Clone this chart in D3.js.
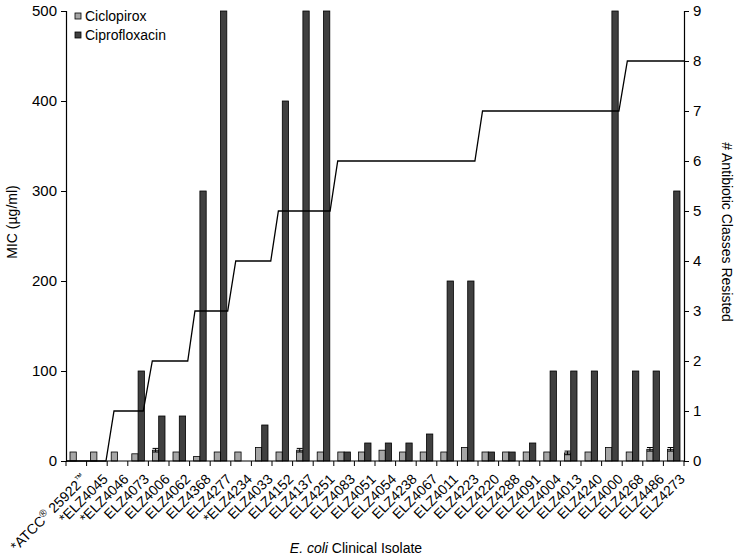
<!DOCTYPE html>
<html><head><meta charset="utf-8">
<script src="https://cdn.jsdelivr.net/npm/d3@7"></script>
<style>
body{margin:0;background:#fff;}
text{font-family:"Liberation Sans",Arial,sans-serif;fill:#000;}
</style></head>
<body><svg id="c" width="737" height="559"></svg>
<script>
const categories = ["*ATCC® 25922™","*ELZ4045","*ELZ4046","ELZ4073","ELZ4006","ELZ4062","ELZ4368","ELZ4277","*ELZ4234","ELZ4033","ELZ4152","ELZ4137","ELZ4251","ELZ4083","ELZ4051","ELZ4054","ELZ4238","ELZ4067","ELZ4011","ELZ4223","ELZ4220","ELZ4288","ELZ4091","ELZ4004","ELZ4013","ELZ4240","ELZ4000","ELZ4268","ELZ4486","ELZ4273"];
const ciclopirox = [10,10,10,8,12,10,5,10,10,15,10,12,10,10,10,12,10,10,10,15,10,10,10,10,9,10,15,10,13,13];
const ciclopiroxErr = [0,0,0,0,2,0,0,0,0,0,0,2,0,0,0,0,0,0,0,0,0,0,0,0,2,0,0,0,2,2];
const ciprofloxacin = [0,0,0,100,50,50,300,500,0,40,400,500,500,10,20,20,20,30,200,200,10,10,20,100,100,100,500,100,100,300];
const classX = [0,1.94,2.33,3.75,4.19,5.91,6.26,7.85,8.24,9.94,10.31,12.82,13.19,19.85,20.22,26.84,27.25,30];
const classY = [0,0,1,1,2,2,3,3,4,4,5,5,6,6,7,7,8,8];
const micTicks = [0,100,200,300,400,500];
const classTicks = [0,1,2,3,4,5,6,7,8,9];

const svg = d3.select("#c");
const L = 66, R = 684, T = 11, B = 461;
const x = d3.scaleBand().domain(categories).range([L, R]).padding(0);
const xLin = d3.scaleLinear().domain([0, categories.length]).range([L, R]);
const y = d3.scaleLinear().domain([0, 500]).range([B, T]);
const y2 = d3.scaleLinear().domain([0, 9]).range([B, T]);
const bw = 6.3;
const lightC = "#a6a6a6", darkC = "#404040";

// bars
const g = svg.append("g");
g.selectAll("rect.cp").data(categories).join("rect")
  .attr("x", d => x(d) + x.bandwidth()/2 - bw)
  .attr("width", bw)
  .attr("y", (d,i) => y(ciclopirox[i]))
  .attr("height", (d,i) => B - y(ciclopirox[i]))
  .attr("fill", lightC).attr("stroke", "#000").attr("stroke-width", 0.8);
g.selectAll("rect.cf").data(categories.filter((d,i)=>ciprofloxacin[i]>0)).join("rect")
  .attr("x", d => x(d) + x.bandwidth()/2)
  .attr("width", bw)
  .attr("y", d => y(ciprofloxacin[categories.indexOf(d)]))
  .attr("height", d => B - y(ciprofloxacin[categories.indexOf(d)]))
  .attr("fill", darkC).attr("stroke", "#000").attr("stroke-width", 0.8);
// error bars
categories.forEach((d,i) => {
  if (!ciclopiroxErr[i]) return;
  const cx = x(d) + x.bandwidth()/2 - bw/2;
  const e = svg.append("g").attr("stroke","#000").attr("stroke-width",1);
  e.append("line").attr("x1",cx).attr("x2",cx).attr("y1",y(ciclopirox[i]-ciclopiroxErr[i])).attr("y2",y(ciclopirox[i]+ciclopiroxErr[i]));
  e.append("line").attr("x1",cx-3).attr("x2",cx+3).attr("y1",y(ciclopirox[i]+ciclopiroxErr[i])).attr("y2",y(ciclopirox[i]+ciclopiroxErr[i]));
  e.append("line").attr("x1",cx-3).attr("x2",cx+3).attr("y1",y(ciclopirox[i]-ciclopiroxErr[i])).attr("y2",y(ciclopirox[i]-ciclopiroxErr[i]));
});

// line
svg.append("path")
  .datum(classX.map((v,i)=>[v, classY[i]]))
  .attr("d", d3.line().x(d=>xLin(d[0])).y(d=>y2(d[1])))
  .attr("fill","none").attr("stroke","#000").attr("stroke-width",1.3);

// left axis
const la = svg.append("g").attr("transform",`translate(${L},0)`)
  .call(d3.axisLeft(y).tickValues(micTicks).tickSize(5).tickPadding(4));
la.selectAll("text").style("font-size","15px");
// right axis
const ra = svg.append("g").attr("transform",`translate(${R},0)`)
  .call(d3.axisRight(y2).tickValues(classTicks).tickSize(5).tickPadding(4));
ra.selectAll("text").style("font-size","15px");
[la, ra].forEach(a => { a.select(".domain").attr("stroke","#000").attr("stroke-width",1.2); a.selectAll(".tick line").attr("stroke","#000"); });

// bottom axis
const xa = svg.append("g").attr("transform",`translate(0,${B})`);
xa.append("line").attr("x1",L).attr("x2",R).attr("stroke","#000").attr("stroke-width",1.2);
xa.selectAll("line.t").data(d3.range(categories.length+1)).join("line")
  .attr("x1",i=>xLin(i)).attr("x2",i=>xLin(i)).attr("y1",0).attr("y2",5).attr("stroke","#000");
const lab = svg.append("g").selectAll("text").data(categories).join("text")
  .attr("transform", d => `translate(${x(d)+x.bandwidth()/2+5},${B+12}) rotate(-45)`)
  .attr("text-anchor","end").attr("dy","0.7em").style("font-size","14px");
lab.each(function(d){
  const t = d3.select(this);
  if (d.includes("®")) {
    t.append("tspan").text("*ATCC");
    t.append("tspan").text("®").attr("baseline-shift","super").style("font-size","10px");
    t.append("tspan").text(" 25922");
    t.append("tspan").text("™").attr("baseline-shift","super").style("font-size","9px");
  } else t.text(d);
});

// axis titles
svg.append("text").attr("transform","translate(17,222) rotate(-90)").attr("text-anchor","middle")
  .style("font-size","14px").text("MIC (µg/ml)");
svg.append("text").attr("transform","translate(722,232) rotate(90)").attr("text-anchor","middle")
  .style("font-size","14px").text("# Antibiotic Classes Resisted");
const xt = svg.append("text").attr("x",356).attr("y",553).attr("text-anchor","middle").style("font-size","14px");
xt.append("tspan").style("font-style","italic").text("E. coli");
xt.append("tspan").text(" Clinical Isolate");

// legend
const leg = svg.append("g");
[["Ciclopirox",lightC],["Ciprofloxacin",darkC]].forEach((s,i)=>{
  leg.append("rect").attr("x",75).attr("y",13+i*19).attr("width",6).attr("height",6)
    .attr("fill",s[1]).attr("stroke","#000").attr("stroke-width",0.8);
  leg.append("text").attr("x",85).attr("y",21+i*19).style("font-size","14px").text(s[0]);
});
</script></body></html>
